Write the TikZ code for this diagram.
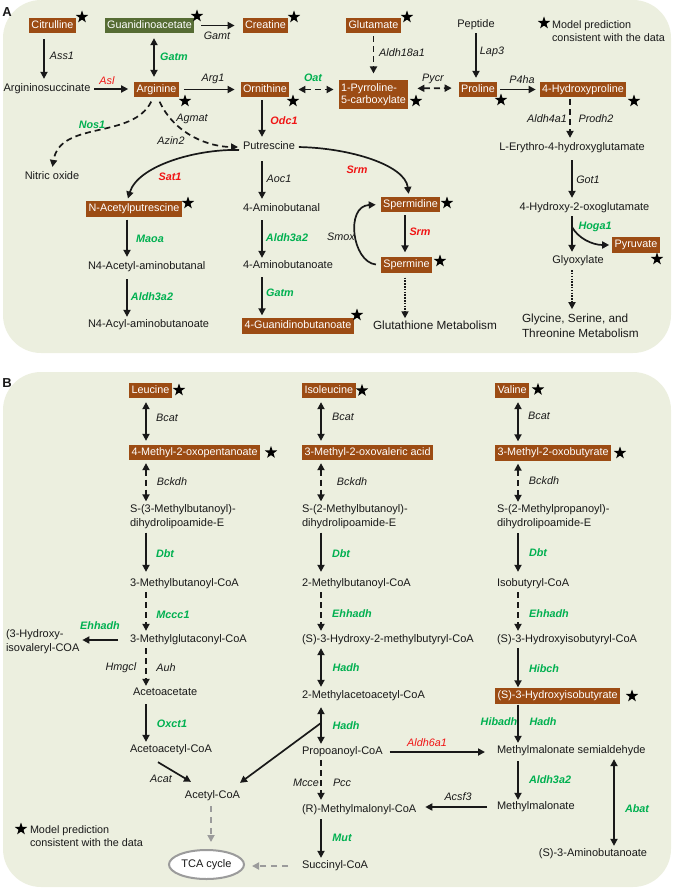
\documentclass[tikz,border=0pt]{standalone}
\usepackage{fontspec}
\setmainfont{Liberation Sans}
\usetikzlibrary{arrows.meta,shapes.geometric,calc}
\definecolor{bgc}{RGB}{236,239,223}
\definecolor{brn}{RGB}{156,76,20}
\definecolor{gbx}{RGB}{86,108,52}
\definecolor{grt}{RGB}{0,176,80}
\definecolor{rdt}{RGB}{240,20,20}
\definecolor{gyc}{RGB}{155,155,155}
\definecolor{txc}{RGB}{25,25,25}
\newcommand{\ftx}{\fontsize{11}{13}\selectfont}
\newcommand{\fbx}{\fontsize{10.8}{12.5}\selectfont}
\newcommand{\fen}{\fontsize{10.8}{12.5}\selectfont}
\newcommand{\fbig}{\fontsize{11.8}{15}\selectfont}
\tikzset{
 lab/.style={font=\ftx, text=txc, inner sep=2pt, outer sep=0pt, text height=8pt, text depth=2.3pt},
 labm/.style={font=\fontsize{11}{14}\selectfont, text=txc, inner sep=2pt, outer sep=0pt, align=left},
 bx/.style={fill=brn, text=white, font=\fbx, inner xsep=2.5pt, inner ysep=2.5pt, outer sep=0pt, text height=8pt, text depth=2.3pt},
 gbox/.style={bx, fill=gbx},
 bxm/.style={fill=brn, text=white, font=\fontsize{10.8}{12}\selectfont, inner xsep=2.5pt, inner ysep=3pt, outer sep=0pt, align=left},
 en/.style={font=\fen\itshape, text=txc, inner sep=1pt},
 eng/.style={font=\fen\bfseries\itshape, text=grt, inner sep=1pt},
 enr/.style={font=\fen\bfseries\itshape, text=rdt, inner sep=1pt},
 enrl/.style={font=\fen\itshape, text=rdt, inner sep=1pt},
 mstar/.style={star, star points=5, star point ratio=2.5, fill=black, draw=none, minimum size=13pt, inner sep=0pt},
 arr/.style={-{Triangle[length=7pt,width=7pt]}, line width=1.7pt, draw=txc, shorten >=2pt, shorten <=2pt},
 darr/.style={{Triangle[length=7pt,width=7pt]}-{Triangle[length=7pt,width=7pt]}, line width=1.7pt, draw=txc, shorten >=2pt, shorten <=2pt},
 dsh/.style={dash pattern=on 6pt off 4pt},
 dotln/.style={dash pattern=on 1.5pt off 1.3pt},
 gyarr/.style={-{Triangle[length=7pt,width=7pt]}, line width=1.7pt, draw=gyc, dash pattern=on 6pt off 5pt},
}
\begin{document}
\begin{tikzpicture}[x=1pt,y=-1pt]
\useasboundingbox (0,0) rectangle (673,891);
\fill[bgc, rounded corners=38pt] (3,0) rectangle (671,353);
\fill[bgc, rounded corners=38pt] (3,372) rectangle (671,887);
\node[font=\fontsize{13}{15}\selectfont\bfseries, text=txc, inner sep=0pt] (labA) at (7,12) {A};
\node[font=\fontsize{13}{15}\selectfont\bfseries, text=txc, inner sep=0pt] (labB) at (7,383) {B};

% ---------------- Panel A nodes ----------------
\node[bx] (cit) at (52.5,25.5) {Citrulline};
\node[gbox] (gaa) at (149.5,25.5) {Guanidinoacetate};
\node[bx] (cre) at (265.5,25.5) {Creatine};
\node[bx] (glu) at (373.5,25.5) {Glutamate};
\node[lab] (pep) at (476,25) {Peptide};
\node[lab] (asu) at (47,89) {Argininosuccinate};
\node[bx] (arg) at (156.5,89.5) {Arginine};
\node[bx] (orn) at (265,89.5) {Ornithine};
\node[bxm] (p5c) at (373.5,94.5) {1-Pyrroline-\\5-carboxylate};
\node[bx] (pro) at (478,89.5) {Proline};
\node[bx] (hyp) at (583,89.5) {4-Hydroxyproline};
\node[lab] (ery) at (572,148) {L-Erythro-4-hydroxyglutamate};
\node[lab] (hog) at (584.5,208) {4-Hydroxy-2-oxoglutamate};
\node[lab] (glx) at (578,261) {Glyoxylate};
\node[bx] (pyr) at (636,245) {Pyruvate};
\node[labm, font=\fbig, anchor=west] (gsm) at (520,326) {Glycine, Serine, and\\Threonine Metabolism};
\node[lab, anchor=west] (put) at (241,147) {Putrescine};
\node[lab] (nox) at (52,177) {Nitric oxide};
\node[bx] (nap) at (134,209) {N-Acetylputrescine};
\node[lab, anchor=west] (naa) at (86,267) {N4-Acetyl-aminobutanal};
\node[lab, anchor=west] (nab) at (86,325) {N4-Acyl-aminobutanoate};
\node[lab, anchor=west] (aba) at (241,209) {4-Aminobutanal};
\node[lab, anchor=west] (abo) at (241,266) {4-Aminobutanoate};
\node[bx, anchor=west] (gbu) at (242,326) {4-Guanidinobutanoate};
\node[bx] (spd) at (410.5,204.5) {Spermidine};
\node[bx] (spm) at (406.5,265) {Spermine};
\node[lab, font=\fbig, text height=9pt, text depth=2.5pt] (glt) at (435,326) {Glutathione Metabolism};
\node[labm, font=\fontsize{10.8}{13}\selectfont, anchor=west] (legA) at (550,31.5) {Model prediction\\consistent with the data};

% stars A
\node[mstar] (sa1) at (82,17) {};
\node[mstar] (sa2) at (197,16) {};
\node[mstar] (sa3) at (294,17) {};
\node[mstar] (sa4) at (407,17) {};
\node[mstar] (sa5) at (185,101) {};
\node[mstar] (sa6) at (293,101) {};
\node[mstar] (sa7) at (416,101) {};
\node[mstar] (sa8) at (501,100) {};
\node[mstar] (sa9) at (634,101) {};
\node[mstar] (sa10) at (188,203) {};
\node[mstar] (sa11) at (447,203) {};
\node[mstar] (sa12) at (440,261) {};
\node[mstar] (sa13) at (357,315) {};
\node[mstar] (sa14) at (657,259) {};
\node[mstar] (sa15) at (544,23) {};

% columns A
\coordinate (xa1) at (44,0);
\coordinate (xa2) at (154,0);
\coordinate (xa3) at (262,0);
\coordinate (xa4) at (127,0);
\coordinate (xa6) at (476,0);
\coordinate (xa7) at (570,0);
\coordinate (xa7b) at (572,0);
\coordinate (xa8) at (405,0);
\coordinate (xa9) at (409,0);
\coordinate (hb) at (572,227);

% connectors A
\draw[arr, shorten <=6pt, shorten >=3pt] (cit.south -| xa1) -- (asu.north -| xa1);
\draw[darr, shorten <=5pt, shorten >=5pt] (gaa.south -| xa2) -- (arg.north -| xa2);
\draw[arr, shorten <=7pt, shorten >=8pt] (gaa.east) -- (cre.west);
\draw[arr, shorten <=2pt, shorten >=6pt] (asu.east) -- (arg.west |- asu.east);
\draw[arr, shorten <=5pt, shorten >=6pt] (arg.east) -- (orn.west);
\draw[darr, dsh, shorten <=9pt, shorten >=5pt] (orn.east) -- (p5c.west |- orn.east);
\draw[darr, dsh, shorten <=9pt, shorten >=7pt] ($(p5c.east)+(0,-6)$) -- ($(pro.west)+(0,-1.5)$);
\draw[arr, dsh, shorten <=3pt, shorten >=7pt] (glu.south) -- (p5c.north -| glu.south);
\draw[arr, shorten <=1pt, shorten >=4pt] (pep.south -| xa6) -- (pro.north -| xa6);
\draw[arr, shorten <=3pt, shorten >=4pt] (pro.east) -- (hyp.west |- pro.east);
\draw[arr, dsh, shorten <=2pt, shorten >=3pt] (hyp.south -| xa7) -- (ery.north -| xa7);
\draw[arr, shorten <=5pt, shorten >=3pt] (ery.south -| xa7b) -- (hog.north -| xa7b);
\draw[arr, shorten <=1pt, shorten >=2pt] (hog.south -| xa7b) -- (glx.north -| xa7b);
\draw[arr, shorten <=0pt, shorten >=3pt] (hb) .. controls (578,238) and (592,245) .. (pyr.west);
\draw[arr, dotln, shorten <=2pt, shorten >=3pt] (glx.south -| xa7b) -- (gsm.north -| xa7b);
\draw[arr, shorten <=3pt, shorten >=3pt] (orn.south -| xa3) -- (put.north -| xa3);
\draw[arr, dsh, shorten <=5pt, shorten >=3pt] ($(arg.south)+(1,0)$) .. controls (175,135) and (210,147) .. (put.west);
\draw[arr, dsh, shorten <=5pt, shorten >=3pt] ($(arg.south)+(-3,0)$) .. controls (132,140) and (60,120) .. (nox.north);
\draw[arr, shorten <=2pt, shorten >=3pt] ($(put.west)+(0,3)$) .. controls (195,149) and (138,166) .. (nap.north -| xa4);
\draw[arr, shorten <=3pt, shorten >=3pt] (nap.south -| xa4) -- (naa.north -| xa4);
\draw[arr, shorten <=5pt, shorten >=1pt] (naa.south -| xa4) -- (nab.north -| xa4);
\draw[arr, shorten <=7pt, shorten >=3pt] (put.south -| xa3) -- (aba.north -| xa3);
\draw[arr, shorten <=4pt, shorten >=1pt] (aba.south -| xa3) -- (abo.north -| xa3);
\draw[arr, shorten <=4pt, shorten >=3pt] (abo.south -| xa3) -- (gbu.north -| xa3);
\draw[arr, shorten <=2pt, shorten >=3pt] (put.east) .. controls (350,148) and (405,165) .. (spd.north -| xa9);
\draw[arr, shorten <=3pt, shorten >=5pt] (spd.south -| xa8) -- (spm.north -| xa8);
\draw[arr, shorten <=5pt, shorten >=5pt] (spm.west) .. controls (352,262) and (345,206) .. (spd.west);
\draw[arr, dotln, shorten <=5pt, shorten >=0pt] (spm.south -| xa8) -- (glt.north -| xa8);

% enzyme labels A
\node[en] (eA1) at (62,56) {Ass1};
\node[eng] (eA2) at (174,57) {Gatm};
\node[en] (eA3) at (217,36) {Gamt};
\node[enrl] (eA4) at (107,81) {Asl};
\node[en] (eA5) at (213,79) {Arg1};
\node[eng] (eA6) at (313,78) {Oat};
\node[eng] (eA7) at (92,125) {Nos1};
\node[en] (eA8) at (192,119) {Agmat};
\node[en] (eA9) at (171,141) {Azin2};
\node[enr] (eA10) at (284,121) {Odc1};
\node[en] (eA11) at (279,179) {Aoc1};
\node[enr] (eA12) at (357,170) {Srm};
\node[enr] (eA13) at (170,177) {Sat1};
\node[eng] (eA14) at (150,239) {Maoa};
\node[eng] (eA15) at (152,297) {Aldh3a2};
\node[eng] (eA16) at (287,238) {Aldh3a2};
\node[eng] (eA17) at (280,293) {Gatm};
\node[en] (eA18) at (341,237) {Smox};
\node[enr] (eA19) at (420,232) {Srm};
\node[en] (eA20) at (402,53) {Aldh18a1};
\node[en] (eA21) at (492,52) {Lap3};
\node[en] (eA22) at (433,79) {Pycr};
\node[en] (eA23) at (522,80) {P4ha};
\node[en] (eA24) at (547,119) {Aldh4a1};
\node[en] (eA25) at (596,119) {Prodh2};
\node[en] (eA26) at (588,180) {Got1};
\node[eng] (eA27) at (595,227) {Hoga1};

% ---------------- Panel B nodes ----------------
\node[bx, anchor=west] (leu) at (129,390.5) {Leucine};
\node[bx, anchor=west] (ile) at (302,390.5) {Isoleucine};
\node[bx, anchor=west] (val) at (495,390.5) {Valine};
\node[bx, anchor=west] (kic) at (129,452.5) {4-Methyl-2-oxopentanoate};
\node[bx, anchor=west] (kmv) at (302,452.5) {3-Methyl-2-oxovaleric acid};
\node[bx, anchor=west] (kiv) at (495,453) {3-Methyl-2-oxobutyrate};
\node[labm, anchor=west] (sL) at (128,516.5) {S-(3-Methylbutanoyl)-\\dihydrolipoamide-E};
\node[labm, anchor=west] (sM) at (300,516.5) {S-(2-Methylbutanoyl)-\\dihydrolipoamide-E};
\node[labm, anchor=west] (sR) at (495,517) {S-(2-Methylpropanoyl)-\\dihydrolipoamide-E};
\node[lab, anchor=west] (mbc) at (128,584) {3-Methylbutanoyl-CoA};
\node[lab, anchor=west] (mgc) at (128,640) {3-Methylglutaconyl-CoA};
\node[labm, anchor=west] (hiv) at (4,641.5) {(3-Hydroxy-\\isovaleryl-COA};
\node[lab, anchor=west] (aca) at (131,693) {Acetoacetate};
\node[lab, anchor=west] (acc) at (128,750) {Acetoacetyl-CoA};
\node[lab] (acoa) at (212.5,796) {Acetyl-CoA};
\node[ellipse, draw=gyc, line width=2pt, fill=white, minimum width=75pt, minimum height=29pt, font=\ftx, text=txc, inner sep=0pt] (tca) at (206.5,864.5) {TCA cycle};
\node[lab, anchor=west] (mb2) at (300,584) {2-Methylbutanoyl-CoA};
\node[lab, anchor=west] (hmb) at (300,640) {(S)-3-Hydroxy-2-methylbutyryl-CoA};
\node[lab, anchor=west] (mac) at (300,696) {2-Methylacetoacetyl-CoA};
\node[lab, anchor=west] (prop) at (300,752) {Propoanoyl-CoA};
\node[lab, anchor=west] (rmm) at (300,810) {(R)-Methylmalonyl-CoA};
\node[lab, anchor=west] (suc) at (300,866) {Succinyl-CoA};
\node[lab, anchor=west] (ibc) at (495,584) {Isobutyryl-CoA};
\node[lab, anchor=west] (hibc) at (495,640) {(S)-3-Hydroxyisobutyryl-CoA};
\node[bx, anchor=west] (hiba) at (495,696) {(S)-3-Hydroxyisobutyrate};
\node[lab, anchor=west] (mms) at (495,751) {Methylmalonate semialdehyde};
\node[lab, anchor=west] (mm) at (495,807) {Methylmalonate};
\node[lab] (amb) at (593,854) {(S)-3-Aminobutanoate};
\node[labm, font=\fontsize{10.8}{13}\selectfont, anchor=west] (legB) at (28,836.5) {Model prediction\\consistent with the data};

% stars B
\node[mstar] (sb1) at (179,390) {};
\node[mstar] (sb2) at (362,390.5) {};
\node[mstar] (sb3) at (538,389.5) {};
\node[mstar] (sb4) at (271,452.5) {};
\node[mstar] (sb5) at (620,453) {};
\node[mstar] (sb6) at (632,696) {};
\node[mstar] (sb7) at (21,829) {};

% columns B
\coordinate (xL) at (146,0);
\coordinate (xM) at (321,0);
\coordinate (xR) at (518,0);
\coordinate (xAb) at (614,0);
\coordinate (xG) at (211,0);
\coordinate (brM) at (321,723);

% connectors B
\draw[darr, shorten <=4pt, shorten >=4pt] (leu.south -| xL) -- (kic.north -| xL);
\draw[darr, shorten <=4pt, shorten >=4pt] (ile.south -| xM) -- (kmv.north -| xM);
\draw[darr, shorten <=4pt, shorten >=4pt] (val.south -| xR) -- (kiv.north -| xR);
\draw[darr, dsh, shorten <=3pt, shorten >=1pt] (kic.south -| xL) -- (sL.north -| xL);
\draw[darr, dsh, shorten <=3pt, shorten >=1pt] (kmv.south -| xM) -- (sM.north -| xM);
\draw[darr, dsh, shorten <=3pt, shorten >=1pt] (kiv.south -| xR) -- (sR.north -| xR);
\draw[arr, shorten <=2pt, shorten >=5pt] (sL.south -| xL) -- (mbc.north -| xL);
\draw[arr, shorten <=2pt, shorten >=5pt] (sM.south -| xM) -- (mb2.north -| xM);
\draw[arr, shorten <=2pt, shorten >=5pt] (sR.south -| xR) -- (ibc.north -| xR);
\draw[arr, dsh, shorten <=1pt, shorten >=2pt] (mbc.south -| xL) -- (mgc.north -| xL);
\draw[arr, shorten <=10pt, shorten >=1pt] (mgc.west) -- (hiv.east |- mgc.west);
\draw[arr, dsh, shorten <=1pt, shorten >=0pt] (mgc.south -| xL) -- (aca.north -| xL);
\draw[arr, shorten <=4pt, shorten >=1pt] (aca.south -| xL) -- (acc.north -| xL);
\draw[arr, shorten <=0pt, shorten >=0pt] ($(acc.south)+(-13,5)$) -- ($(acoa.north)+(-21.5,-7)$);
\draw[arr, shorten <=0pt, shorten >=0pt] (brM) -- ($(acoa.north)+(27.5,-6)$);
\draw[gyarr, shorten <=3pt, shorten >=7pt] (acoa.south -| xG) -- (tca.north -| xG);
\draw[gyarr, shorten <=12pt, shorten >=7pt] (suc.west) -- (tca.east |- suc.west);
\draw[arr, dsh, shorten <=1pt, shorten >=2pt] (mb2.south -| xM) -- (hmb.north -| xM);
\draw[darr, shorten <=1pt, shorten >=2pt] (hmb.south -| xM) -- (mac.north -| xM);
\draw[darr, shorten <=4pt, shorten >=1pt] (mac.south -| xM) -- (prop.north -| xM);
\draw[arr, shorten <=5pt, shorten >=10pt] (prop.east) -- (mms.west |- prop.east);
\draw[arr, dsh, shorten <=1pt, shorten >=3pt] (prop.south -| xM) -- (rmm.north -| xM);
\draw[arr, shorten <=2pt, shorten >=1pt] (rmm.south -| xM) -- (suc.north -| xM);
\draw[arr, shorten <=8pt, shorten >=7pt] (mm.west) -- (rmm.east |- mm.west);
\draw[arr, dsh, shorten <=1pt, shorten >=2pt] (ibc.south -| xR) -- (hibc.north -| xR);
\draw[arr, shorten <=1pt, shorten >=1pt] (hibc.south -| xR) -- (hiba.north -| xR);
\draw[arr, shorten <=1pt, shorten >=1pt] (hiba.south -| xR) -- (mms.north -| xR);
\draw[arr, shorten <=3pt, shorten >=0pt] (mms.south -| xR) -- (mm.north -| xR);
\draw[darr, shorten <=1pt, shorten >=1pt] (mms.south -| xAb) -- (amb.north -| xAb);

% enzyme labels B
\node[en] (eB1) at (167,418) {Bcat};
\node[en] (eB2) at (343,417) {Bcat};
\node[en] (eB3) at (539,416) {Bcat};
\node[en] (eB4) at (172,482) {Bckdh};
\node[en] (eB5) at (352,482) {Bckdh};
\node[en] (eB6) at (544,481) {Bckdh};
\node[eng] (eB7) at (165,554) {Dbt};
\node[eng] (eB8) at (341,554) {Dbt};
\node[eng] (eB9) at (538,553) {Dbt};
\node[eng] (eB10) at (173,615) {Mccc1};
\node[eng] (eB11) at (100,626) {Ehhadh};
\node[en] (eB12) at (121,668) {Hmgcl};
\node[en] (eB13) at (166,668) {Auh};
\node[eng] (eB14) at (172,724) {Oxct1};
\node[en] (eB15) at (161,779) {Acat};
\node[eng] (eB16) at (352,614) {Ehhadh};
\node[eng] (eB17) at (346,668) {Hadh};
\node[eng] (eB18) at (346,726) {Hadh};
\node[enrl] (eB19) at (427,743) {Aldh6a1};
\node[en] (eB20) at (306,783) {Mcce};
\node[en] (eB21) at (342,783) {Pcc};
\node[eng] (eB22) at (342,838) {Mut};
\node[en] (eB23) at (458,797) {Acsf3};
\node[eng] (eB24) at (549,614) {Ehhadh};
\node[eng] (eB25) at (544,669) {Hibch};
\node[eng] (eB26) at (499,722) {Hibadh};
\node[eng] (eB27) at (543,722) {Hadh};
\node[eng] (eB28) at (550,780) {Aldh3a2};
\node[eng] (eB29) at (637,809) {Abat};
\end{tikzpicture}
\end{document}
